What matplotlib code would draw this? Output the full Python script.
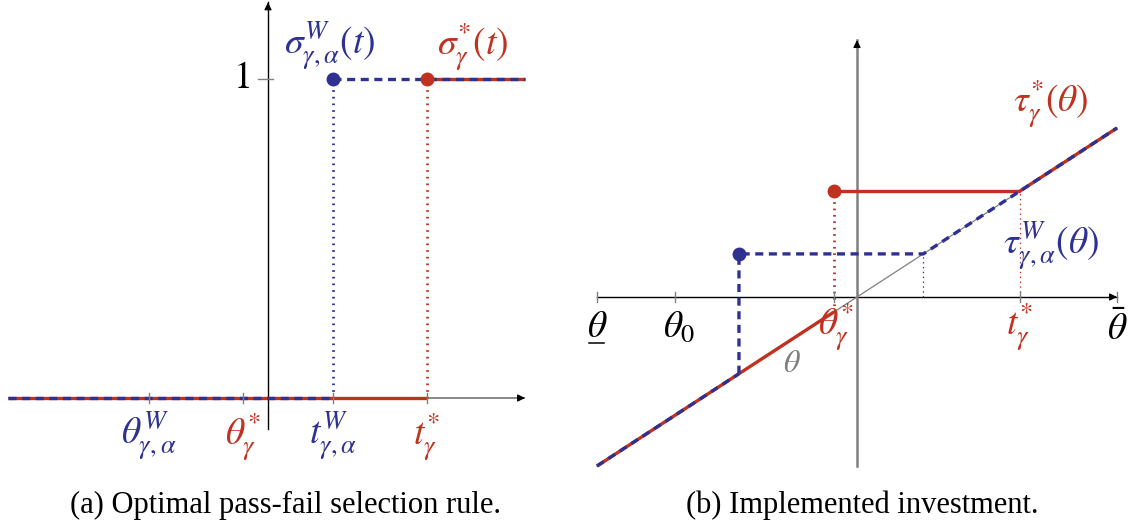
import matplotlib
matplotlib.use('Agg')
import matplotlib.pyplot as plt

plt.rcParams['mathtext.fontset'] = 'stix'
plt.rcParams['font.family'] = ['Liberation Serif', 'DejaVu Serif']
plt.rcParams['lines.scale_dashes'] = False

RED = '#c0311f'
BLUE = '#2e3192'
GRAY = '#808080'
DASH = (0, (5.8, 4.0))
LW = 2.4
FS = 27

# ---------------- Panel (a) data ----------------
a_xmin, a_xmax = -2.6, 2.57
a_yaxis_top, a_yaxis_bottom = 1.24, -0.097
a_theta_W = -1.19
a_theta_star = -0.25
a_t_W = 0.65
a_t_star = 1.59
a_level = 1.0
a_tick_values = [a_theta_W, a_theta_star, a_t_W, a_t_star]
a_tick_labels = [r'$\theta^{W}_{\gamma,\alpha}$', r'$\theta^{*}_{\gamma}$',
                 r'$t^{W}_{\gamma,\alpha}$', r'$t^{*}_{\gamma}$']
a_tick_colors = [BLUE, RED, BLUE, RED]

# ---------------- Panel (b) data ----------------
b_theta_min, b_theta_max = -1.0, 1.0
b_theta0 = -0.70
b_jump_W = -0.454
b_level_W = 0.255
b_theta_star = -0.088
b_t_star = 0.625
b_yaxis_top, b_yaxis_bottom = 1.52, -1.0
b_tick_values = [b_theta_min, b_theta0, b_theta_star, b_t_star, b_theta_max]

captions = ['(a) Optimal pass-fail selection rule.', '(b) Implemented investment.']

fig = plt.figure(figsize=(11.34, 5.27), dpi=100)
W, H = 1134, 527

axA = fig.add_axes([0, 57 / H, 560 / W, 470 / H])
axA.set_xlim((0 - 268) / 100, (560 - 268) / 100)
axA.set_ylim((398 - 470) / 319, 398 / 319)
axA.axis('off')

axB = fig.add_axes([580 / W, 57 / H, 554 / W, 470 / H])
axB.set_xlim((580 - 857) / 260, (1134 - 857) / 260)
axB.set_ylim((297 - 470) / 169, 297 / 169)
axB.axis('off')


def arrow_head(ax, x0, y0, x1, y1, color='black'):
    ax.annotate('', xy=(x1, y1), xytext=(x0, y0),
                arrowprops=dict(arrowstyle='-|>', color=color, lw=0.8,
                                mutation_scale=11, shrinkA=0, shrinkB=0),
                zorder=6)


# ================= Panel (a) =================
ax = axA
ax.plot([a_xmin, a_xmax], [0, 0], color=GRAY, lw=1.3, zorder=1, solid_capstyle='butt')
arrow_head(ax, a_xmax - 0.05, 0, a_xmax, 0)
ax.plot([0, 0], [a_yaxis_bottom, a_yaxis_top], color='black', lw=1.0, zorder=1)
arrow_head(ax, 0, a_yaxis_top - 0.02, 0, a_yaxis_top)
for v in a_tick_values:
    ax.plot([v, v], [-0.016, 0.016], color=GRAY, lw=1.0, zorder=5)
ax.plot([-0.1, 0.05], [a_level, a_level], color=GRAY, lw=1.0, zorder=1)
ax.annotate(r'$1$', xy=(0, a_level), xytext=(-27, 0), textcoords='offset pixels',
            fontsize=27, ha='center', va='center')

ax.plot([a_t_W, a_t_W], [0, a_level], color=BLUE, lw=2.0, ls=(0, (1.2, 3.6)), zorder=2)
ax.plot([a_t_star, a_t_star], [0, a_level], color=RED, lw=2.0, ls=(0, (1.2, 3.6)), zorder=2)

ax.plot([a_xmin, a_t_star], [0, 0], color=RED, lw=LW, zorder=3, solid_capstyle='butt')
ax.plot([a_t_star, a_xmax], [a_level, a_level], color=RED, lw=LW, zorder=3, solid_capstyle='butt')
ax.plot([a_xmin, a_t_W], [0, 0], color=BLUE, lw=LW, ls=DASH, zorder=4, dash_capstyle='butt')
ax.plot([a_t_W, a_xmax], [a_level, a_level], color=BLUE, lw=LW, ls=DASH, zorder=4, dash_capstyle='butt')
ax.plot([a_t_W], [a_level], 'o', color=BLUE, ms=9, zorder=7)
ax.plot([a_t_star], [a_level], 'o', color=RED, ms=9, zorder=7)

for v, lab, c in zip(a_tick_values, a_tick_labels, a_tick_colors):
    ax.annotate(lab, xy=(v, 0), xytext=(0, -39), textcoords='offset pixels',
                ha='center', va='center', fontsize=FS, color=c)

ax.annotate(r'$\sigma^{W}_{\gamma,\alpha}(t)$', xy=(a_t_W, a_level), xytext=(-3, 32),
            textcoords='offset pixels', ha='center', va='center', fontsize=FS, color=BLUE)
ax.annotate(r'$\sigma^{*}_{\gamma}(t)$', xy=(a_t_star, a_level), xytext=(46, 32),
            textcoords='offset pixels', ha='center', va='center', fontsize=FS, color=RED)

# ================= Panel (b) =================
ax = axB
ax.plot([b_theta_min, b_theta_max], [0, 0], color='black', lw=1.0, zorder=1)
arrow_head(ax, b_theta_max - 0.03, 0, b_theta_max, 0)
ax.plot([0, 0], [b_yaxis_bottom, b_yaxis_top], color=GRAY, lw=1.8, zorder=1)
arrow_head(ax, 0, b_yaxis_top - 0.03, 0, b_yaxis_top)
for v in b_tick_values:
    ax.plot([v, v], [-0.03, 0.03], color=GRAY, lw=1.0, zorder=5)

ax.plot([b_theta_min, b_theta_max], [b_theta_min, b_theta_max], color=GRAY, lw=0.9, zorder=1)

ax.plot([b_theta_star, b_theta_star], [b_theta_star, b_t_star], color=RED, lw=2.0,
        ls=(0, (1.2, 3.4)), zorder=2)
ax.plot([b_t_star, b_t_star], [0, b_t_star], color=RED, lw=0.9, ls=(0, (1, 2.5)), zorder=2)
ax.plot([b_level_W, b_level_W], [0, b_level_W], color=BLUE, lw=0.9, ls=(0, (1, 2.5)), zorder=2)

ax.plot([b_theta_min, b_theta_star], [b_theta_min, b_theta_star], color=RED, lw=LW,
        zorder=3, solid_capstyle='butt')
ax.plot([b_theta_star, b_t_star], [b_t_star, b_t_star], color=RED, lw=LW, zorder=3,
        solid_capstyle='butt')
ax.plot([b_t_star, b_theta_max], [b_t_star, b_theta_max], color=RED, lw=LW, zorder=3,
        solid_capstyle='butt')
ax.plot([b_theta_min, b_jump_W], [b_theta_min, b_jump_W], color=BLUE, lw=LW, ls=DASH,
        zorder=4, dash_capstyle='butt')
ax.plot([b_jump_W, b_jump_W, b_level_W, b_theta_max],
        [b_jump_W, b_level_W, b_level_W, b_theta_max], color=BLUE, lw=LW, ls=DASH,
        zorder=4, dash_capstyle='butt')
ax.plot([b_jump_W], [b_level_W], 'o', color=BLUE, ms=9, zorder=7)
ax.plot([b_theta_star], [b_t_star], 'o', color=RED, ms=9, zorder=7)

ax.annotate(r'$\theta$', xy=(b_theta_min, 0), xytext=(0, -31), textcoords='offset pixels',
            ha='center', va='center', fontsize=FS, color='black')
ax.plot([b_theta_min - 0.03, b_theta_min + 0.025], [-0.275, -0.275], color='black', lw=1.1)
ax.annotate(r'$\theta_0$', xy=(b_theta0, 0), xytext=(4, -31), textcoords='offset pixels',
            ha='center', va='center', fontsize=FS, color='black')
ax.annotate(r'$\bar{\theta}$', xy=(b_theta_max, 0), xytext=(0, -33), textcoords='offset pixels',
            ha='center', va='center', fontsize=FS, color='black')
ax.annotate(r'$\theta^{*}_{\gamma}$', xy=(b_theta_star, 0), xytext=(2, -30),
            textcoords='offset pixels', ha='center', va='center', fontsize=FS, color=RED)
ax.annotate(r'$t^{*}_{\gamma}$', xy=(b_t_star, 0), xytext=(0, -30),
            textcoords='offset pixels', ha='center', va='center', fontsize=FS, color=RED)
ax.annotate(r'$\theta$', xy=(b_theta_star, 0), xytext=(-42, -67),
            textcoords='offset pixels', ha='center', va='center', fontsize=23, color=GRAY)
ax.annotate(r'$\tau^{*}_{\gamma}(\theta)$', xy=(b_t_star, b_t_star), xytext=(31, 87),
            textcoords='offset pixels', ha='center', va='center', fontsize=FS, color=RED)
ax.annotate(r'$\tau^{W}_{\gamma,\alpha}(\theta)$', xy=(b_t_star, b_t_star), xytext=(31, -55),
            textcoords='offset pixels', ha='center', va='center', fontsize=FS, color=BLUE)

fig.text(285 / W, 1 - 505 / H, captions[0], ha='center', va='center', fontsize=22)
fig.text(862 / W, 1 - 505 / H, captions[1], ha='center', va='center', fontsize=22)

fig.savefig('out.png', dpi=100)
